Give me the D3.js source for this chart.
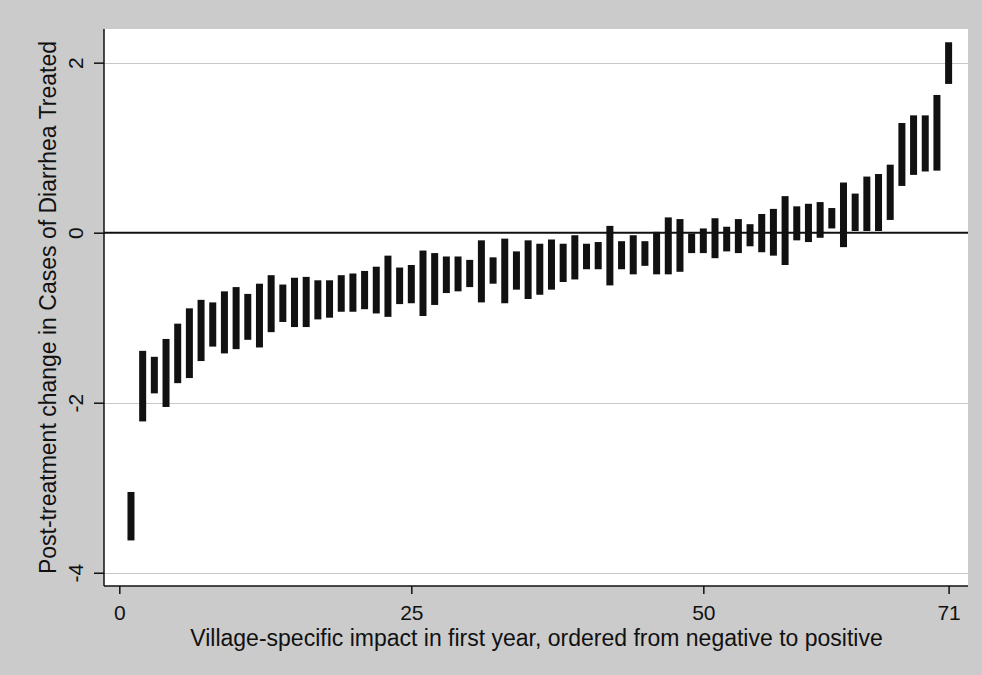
<!DOCTYPE html>
<html>
<head>
<meta charset="utf-8">
<script src="https://cdn.jsdelivr.net/npm/d3@7"></script>
<style>
  html, body { margin: 0; padding: 0; background: #cbcbcb; }
  svg { display: block; }
  text { font-family: "Liberation Sans", Arial, Helvetica, sans-serif; fill: #111; }
</style>
</head>
<body>
<svg id="chart" width="982" height="675"></svg>
<script>
// Village index (ordered by estimated impact) and the lower/upper ends of each interval
const villages = d3.range(1, 72);
const lower = [
  -3.62, -2.22, -1.89, -2.05, -1.77, -1.71, -1.51, -1.34, -1.42, -1.37,
  -1.26, -1.35, -1.17, -1.05, -1.11, -1.11, -1.02, -1.00, -0.93, -0.93,
  -0.90, -0.95, -0.99, -0.84, -0.83, -0.98, -0.85, -0.71, -0.69, -0.64,
  -0.82, -0.60, -0.83, -0.67, -0.78, -0.73, -0.67, -0.58, -0.55, -0.43,
  -0.43, -0.62, -0.43, -0.49, -0.39, -0.49, -0.49, -0.46, -0.24, -0.24,
  -0.30, -0.22, -0.24, -0.16, -0.23, -0.27, -0.38, -0.09, -0.11, -0.06,
   0.05, -0.17,  0.02,  0.02,  0.02,  0.15,  0.55,  0.68,  0.72,  0.73,
   1.75
];
const upper = [
  -3.05, -1.39, -1.46, -1.25, -1.07, -0.89, -0.79, -0.82, -0.69, -0.64,
  -0.72, -0.60, -0.50, -0.61, -0.53, -0.52, -0.56, -0.56, -0.50, -0.48,
  -0.45, -0.40, -0.27, -0.41, -0.38, -0.21, -0.24, -0.28, -0.28, -0.32,
  -0.09, -0.29, -0.07, -0.22, -0.09, -0.13, -0.08, -0.13, -0.03, -0.13,
  -0.11,  0.08, -0.10, -0.03, -0.10,  0.01,  0.18,  0.16, -0.01,  0.05,
   0.17,  0.07,  0.16,  0.10,  0.22,  0.28,  0.43,  0.31,  0.34,  0.36,
   0.29,  0.59,  0.46,  0.66,  0.69,  0.80,  1.29,  1.38,  1.38,  1.62,
   2.24
];
const xTicks = [0, 25, 50, 71];
const yTicks = [-4, -2, 0, 2];
const xTitle = "Village-specific impact in first year, ordered from negative to positive";
const yTitle = "Post-treatment change in Cases of Diarrhea Treated";

const svg = d3.select("#chart");
const W = 982, H = 675;
const plot = { left: 104, right: 968, top: 29, bottom: 586 };

// outer graph region
svg.append("rect").attr("x", 0).attr("y", 0).attr("width", W).attr("height", H)
  .attr("fill", "#cbcbcb");

const x = d3.scaleLinear().domain([-1.31, 72.66]).range([plot.left, plot.right]);
const y = d3.scaleLinear().domain([-4.156, 2.396]).range([plot.bottom, plot.top]);

// plot region
svg.append("rect")
  .attr("x", plot.left).attr("y", plot.top)
  .attr("width", plot.right - plot.left).attr("height", plot.bottom - plot.top)
  .attr("fill", "#ffffff");

// horizontal grid lines
svg.append("g")
  .selectAll("line")
  .data(yTicks.filter(t => t !== 0))
  .join("line")
  .attr("x1", plot.left).attr("x2", plot.right)
  .attr("y1", d => Math.round(y(d)) + 0.5).attr("y2", d => Math.round(y(d)) + 0.5)
  .attr("stroke", "#c8c8c8").attr("stroke-width", 1);

// interval bars
const data = villages.map((v, i) => ({ v, lo: lower[i], hi: upper[i] }));
svg.append("g")
  .selectAll("rect")
  .data(data)
  .join("rect")
  .attr("x", d => x(d.v) - 3.5)
  .attr("width", 7)
  .attr("y", d => y(d.hi))
  .attr("height", d => y(d.lo) - y(d.hi))
  .attr("fill", "#111");

// reference line at zero
svg.append("line")
  .attr("x1", plot.left).attr("x2", plot.right)
  .attr("y1", y(0)).attr("y2", y(0))
  .attr("stroke", "#111").attr("stroke-width", 2);

// y axis
const yAxis = d3.axisLeft(y).tickValues(yTicks).tickSize(10).tickFormat(d3.format("d"));
const gy = svg.append("g").attr("transform", `translate(${plot.left},0)`).call(yAxis);
gy.select(".domain").attr("stroke", "#111").attr("stroke-width", 1.5)
  .attr("d", `M0,${plot.top}V${plot.bottom}`);
gy.selectAll(".tick line").attr("stroke", "#111").attr("stroke-width", 1.5);
gy.selectAll(".tick text")
  .attr("x", null).attr("dy", null)
  .attr("transform", "translate(-21,0) rotate(-90)")
  .attr("text-anchor", "middle")
  .style("font-size", "21px")
  .style("font-family", "'Liberation Sans', Arial, sans-serif")
  .attr("fill", "#111")
  .text(d => d < 0 ? "-" + Math.abs(d) : d);

// x axis
const xAxis = d3.axisBottom(x).tickValues(xTicks).tickSize(8).tickFormat(d3.format("d"));
const gx = svg.append("g").attr("transform", `translate(0,${plot.bottom})`).call(xAxis);
gx.select(".domain").attr("stroke", "#111").attr("stroke-width", 1.5)
  .attr("d", `M${plot.left},0H${plot.right}`);
gx.selectAll(".tick line").attr("stroke", "#111").attr("stroke-width", 1.5);
gx.selectAll(".tick text")
  .attr("y", 34).attr("dy", null)
  .style("font-size", "21px")
  .style("font-family", "'Liberation Sans', Arial, sans-serif")
  .attr("fill", "#111");

// axis titles
svg.append("text")
  .attr("x", (plot.left + plot.right) / 2 + 0.5)
  .attr("y", 646)
  .attr("text-anchor", "middle")
  .style("font-size", "23px")
  .text(xTitle);

svg.append("text")
  .attr("transform", `translate(56,${(plot.top + plot.bottom) / 2}) rotate(-90)`)
  .attr("text-anchor", "middle")
  .style("font-size", "23px")
  .text(yTitle);
</script>
</body>
</html>
